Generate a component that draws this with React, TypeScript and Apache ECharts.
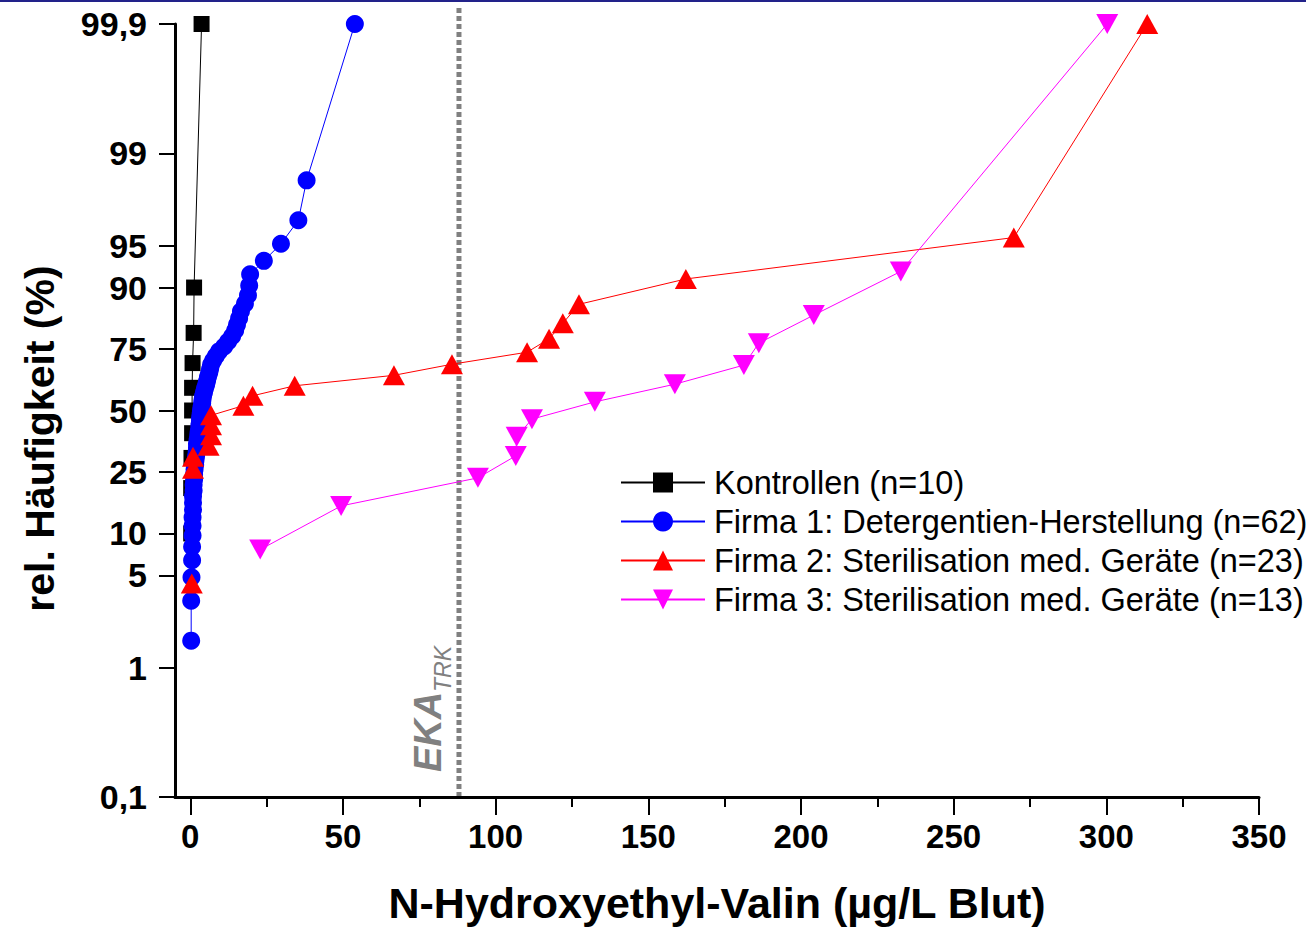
import React, { useEffect, useRef } from 'react';
import * as echarts from 'echarts';

const FONT = "'Liberation Sans', Arial, Helvetica, sans-serif";

// x axis
const X_MIN = -5;
const X_MAX = 350;
const X_TICKS = [0, 50, 100, 150, 200, 250, 300, 350];

// y axis: probability (logit) scale, in %
const Y_TICKS = [0.1, 1, 5, 10, 25, 50, 75, 90, 95, 99, 99.9];
const Y_TICK_LABELS = ['0,1', '1', '5', '10', '25', '50', '75', '90', '95', '99', '99,9'];

// reference value EKA (TRK)
const EKA_TRK = 88;

// Kontrollen (n=10)
const KONTROLLEN_X = [0.3, 0.3, 0.4, 0.6, 0.6, 0.6, 0.75, 1.1, 1.25, 3.7];
const KONTROLLEN_P = [10, 20, 30, 40, 50, 60, 70, 80, 90, 99.9];

// Firma 1 (n=62)
const FIRMA1_X = [
  0.3, 0.3, 0.4, 0.6, 0.6, 0.75, 0.75, 0.75, 0.9, 0.9,
  0.9, 1.1, 1.1, 1.25, 1.25, 1.4, 1.6, 1.7, 1.9, 2.1,
  2.2, 2.2, 2.4, 2.6, 2.7, 2.9, 3.0, 3.2, 3.2, 3.4,
  3.5, 3.7, 3.9, 4.0, 4.2, 4.5, 4.8, 5.2, 5.5, 5.8,
  6.2, 6.5, 6.8, 7.5, 8.4, 9.4, 11.1, 12.4, 13.7, 14.7,
  15.3, 16.0, 16.6, 17.9, 18.9, 19.3, 19.6, 24.1, 29.7, 35.4,
  38.1, 53.9,
];
const FIRMA1_P = [
  1.61, 3.23, 4.84, 6.45, 8.06, 9.68, 11.29, 12.9, 14.52, 16.13,
  17.74, 19.35, 20.97, 22.58, 24.19, 25.81, 27.42, 29.03, 30.65, 32.26,
  33.87, 35.48, 37.1, 38.71, 40.32, 41.94, 43.55, 45.16, 46.77, 48.39,
  50.0, 51.61, 53.23, 54.84, 56.45, 58.06, 59.68, 61.29, 62.9, 64.52,
  66.13, 67.74, 69.35, 70.97, 72.58, 74.19, 75.81, 77.42, 79.03, 80.65,
  82.26, 83.87, 85.48, 87.1, 88.71, 90.32, 91.94, 93.55, 95.16, 96.77,
  98.39, 99.9,
];

// Firma 2 (n=23), visible points
const FIRMA2_X = [0.5, 0.9, 0.9, 6.0, 6.8, 6.8, 6.8, 17.4, 20.4, 34.2, 66.7, 85.7, 110.3, 117.5, 122.0, 127.3, 162.3, 269.7, 313.4];
const FIRMA2_P = [4.35, 26.09, 30.43, 34.78, 39.13, 43.48, 47.83, 52.17, 56.52, 60.87, 65.22, 69.57, 73.91, 78.26, 82.61, 86.96, 91.3, 95.65, 99.9];

// Firma 3 (n=13)
const FIRMA3_X = [22.9, 49.4, 94.2, 106.6, 106.9, 111.9, 132.5, 158.7, 181.3, 186.2, 204.2, 232.7, 300.3];
const FIRMA3_P = [7.69, 15.38, 23.08, 30.77, 38.46, 46.15, 53.85, 61.54, 69.23, 76.92, 84.62, 92.31, 99.9];

const logit = (p: number) => Math.log(p / (100 - p));

const toData = (xs: number[], ps: number[]) => xs.map((x, i) => [x, logit(ps[i])]);

const DOWN_TRI = 'path://M0,0L22,0L11,20Z';

function makeSeries(name: string, xs: number[], ps: number[], color: string, symbol: string, size: any) {
  return {
    name,
    type: 'line',
    data: toData(xs, ps),
    symbol,
    symbolSize: size,
    showSymbol: true,
    showAllSymbol: true,
    lineStyle: { color, width: 1 },
    itemStyle: { color },
    emphasis: { disabled: true },
    clip: true,
  };
}

export default function App() {
  const ref = useRef<HTMLDivElement>(null);

  useEffect(() => {
    const chart = echarts.init(ref.current!, null, { renderer: 'svg' });
    const yMin = logit(Y_TICKS[0]);
    const yMax = logit(Y_TICKS[Y_TICKS.length - 1]);
    const option: any = {
      animation: false,
      backgroundColor: '#ffffff',
      grid: { left: 175, right: 47, top: 24, bottom: 133, containLabel: false },
      xAxis: {
        type: 'value',
        min: X_MIN,
        max: X_MAX,
        minInterval: 50,
        maxInterval: 50,
        name: 'N-Hydroxyethyl-Valin (µg/L Blut)',
        nameLocation: 'middle',
        nameGap: 84,
        nameTextStyle: { fontFamily: FONT, fontSize: 43, fontWeight: 'bold', color: '#000' },
        axisLine: { show: true, onZero: false, lineStyle: { color: '#000', width: 3 } },
        axisTick: { show: true, customValues: X_TICKS, length: 18, lineStyle: { color: '#000', width: 2 } },
        minorTick: { show: true, splitNumber: 2, length: 10, lineStyle: { color: '#000', width: 2 } },
        axisLabel: {
          customValues: X_TICKS,
          margin: 23,
          fontFamily: FONT,
          fontSize: 33,
          fontWeight: 'bold',
          color: '#000',
        },
        splitLine: { show: false },
        minorSplitLine: { show: false },
      },
      yAxis: {
        type: 'value',
        min: yMin,
        max: yMax,
        name: 'rel. Häufigkeit (%)',
        nameLocation: 'middle',
        nameRotate: 90,
        nameGap: 115,
        nameTextStyle: { fontFamily: FONT, fontSize: 41, fontWeight: 'bold', color: '#000', padding: [0, 56, 0, 0] },
        axisLine: { show: true, onZero: false, lineStyle: { color: '#000', width: 3 } },
        axisTick: { show: true, customValues: Y_TICKS.map(logit), length: 16, lineStyle: { color: '#000', width: 2 } },
        axisLabel: {
          customValues: Y_TICKS.map(logit),
          margin: 28,
          fontFamily: FONT,
          fontSize: 34,
          fontWeight: 'bold',
          color: '#000',
          formatter: (v: number) => {
            let best = 0;
            let bd = Infinity;
            Y_TICKS.forEach((p, i) => {
              const d = Math.abs(logit(p) - v);
              if (d < bd) {
                bd = d;
                best = i;
              }
            });
            return Y_TICK_LABELS[best];
          },
        },
        splitLine: { show: false },
      },
      legend: {
        orient: 'vertical',
        left: 620,
        top: 466,
        padding: 0,
        itemWidth: 84,
        itemHeight: 25,
        itemGap: 6,
        textStyle: { fontFamily: FONT, fontSize: 32.5, color: '#000', padding: [0, 0, 0, 4] },
        data: [
          'Kontrollen (n=10)',
          'Firma 1: Detergentien-Herstellung (n=62)',
          'Firma 2: Sterilisation med. Geräte (n=23)',
          'Firma 3: Sterilisation med. Geräte (n=13)',
        ],
      },
      series: [
        makeSeries('Kontrollen (n=10)', KONTROLLEN_X, KONTROLLEN_P, '#000000', 'rect', 16),
        makeSeries('Firma 1: Detergentien-Herstellung (n=62)', FIRMA1_X, FIRMA1_P, '#0000ff', 'circle', 18),
        makeSeries('Firma 2: Sterilisation med. Geräte (n=23)', FIRMA2_X, FIRMA2_P, '#ff0000', 'triangle', [22, 20]),
        makeSeries('Firma 3: Sterilisation med. Geräte (n=13)', FIRMA3_X, FIRMA3_P, '#ff00ff', DOWN_TRI, [22, 20]),
      ],
    };
    chart.setOption(option);

    const px = chart.convertToPixel({ xAxisIndex: 0 }, EKA_TRK) as number;
    const yBot = chart.convertToPixel({ yAxisIndex: 0 }, yMin) as number;

    chart.setOption({
      graphic: [
        {
          type: 'rect',
          left: 0,
          top: 0,
          shape: { x: 0, y: 0, width: 1306, height: 2 },
          style: { fill: '#22228a' },
          silent: true,
        },
        {
          type: 'line',
          shape: { x1: px, y1: 8, x2: px, y2: yBot },
          style: { stroke: '#808080', lineWidth: 5, lineDash: [5, 3] },
          silent: true,
        },
        {
          type: 'text',
          x: px - 12,
          y: yBot - 25,
          rotation: Math.PI / 2,
          style: {
            text: 'EKA',
            font: `italic bold 38px ${FONT}`,
            fill: '#808080',
            align: 'left',
            verticalAlign: 'bottom',
          },
          silent: true,
        },
        {
          type: 'text',
          x: px - 4,
          y: yBot - 25 - 80,
          rotation: Math.PI / 2,
          style: {
            text: 'TRK',
            font: `italic 23px ${FONT}`,
            fill: '#808080',
            align: 'left',
            verticalAlign: 'bottom',
          },
          silent: true,
        },
      ],
    });

    return () => chart.dispose();
  }, []);

  return (
    <div
      ref={ref}
      style={{ position: 'absolute', left: 0, top: 0, width: 1306, height: 930, background: '#fff' }}
    />
  );
}
